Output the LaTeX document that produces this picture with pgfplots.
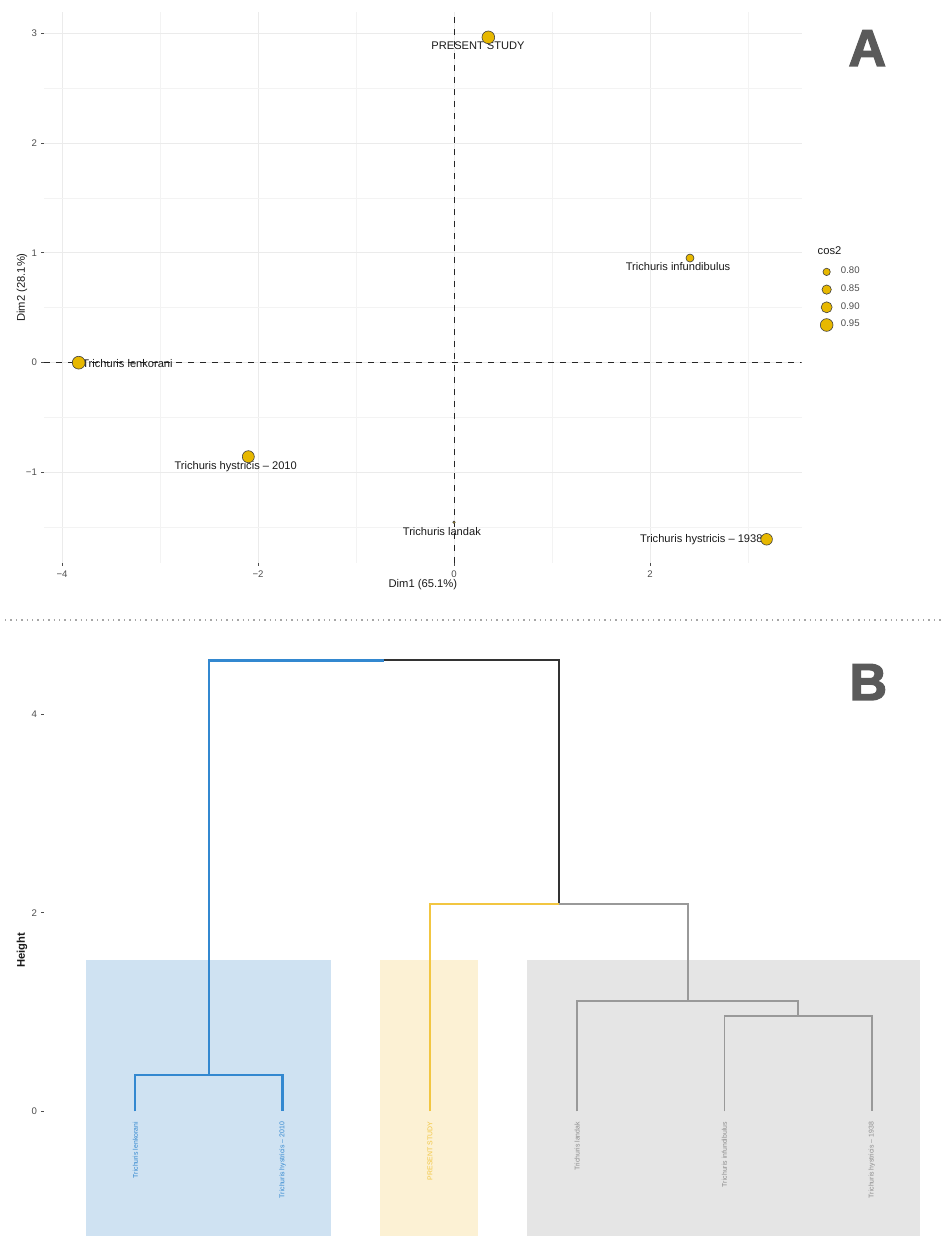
\documentclass[border=0pt]{standalone}
\usepackage{pgfplots}
\pgfplotsset{compat=1.18}
\usepackage{fontspec}
\setmainfont{Liberation Sans}
\newfontfamily\heavy{Liberation Sans Bold}[FakeBold=2.5]
\definecolor{pgold}{HTML}{E7B800}
\definecolor{dblue}{HTML}{3388D0}
\definecolor{dyellow}{HTML}{F2C641}
\definecolor{dgray}{HTML}{999999}
\definecolor{dlab}{HTML}{8C8C8C}
\definecolor{dblack}{HTML}{333333}
\definecolor{rblue}{HTML}{CFE2F2}
\definecolor{ryellow}{HTML}{FCF1D4}
\definecolor{rgray}{HTML}{E5E5E5}
\definecolor{tickgray}{HTML}{4D4D4D}
\definecolor{gridmaj}{HTML}{EBEBEB}
\definecolor{gridmin}{HTML}{F3F3F3}
\definecolor{lettergray}{HTML}{5A5A5A}
\definecolor{txt}{HTML}{1A1A1A}
\pgfplotsset{
  pt/.style={only marks, mark=*, mark options={fill=pgold, draw=black!75, line width=0.3pt}, mark size=#1},
  legimg/.style={legend image code/.code={\path[draw=none,fill=none] (-3.5pt,-3.5pt) rectangle (3.5pt,3.5pt); \draw[##1] plot coordinates {(0pt,0pt)};}},
}
\begin{document}
\begin{tikzpicture}
\path[use as bounding box] (0,0) rectangle (470.5pt,618pt);
% ---------------- Panel A ----------------
\begin{axis}[
  at={(22pt,336.5pt)}, anchor=south west,
  scale only axis, width=378.85pt, height=275.5pt,
  xmin=-4.184, xmax=3.548, ymin=-1.826, ymax=3.197,
  axis line style={draw=none},
  xtick={-4,-2,0,2}, xticklabels={−4,−2,0,2},
  ytick={-1,0,1,2,3}, yticklabels={−1,0,1,2,3},
  minor xtick={-3,-1,1,3}, minor ytick={-1.5,-0.5,0.5,1.5,2.5},
  grid=both,
  major grid style={gridmaj, line width=0.5pt},
  minor grid style={gridmin, line width=0.35pt},
  tick align=outside, major tick length=1.5pt, minor tick length=0pt,
  tick style={tickgray, line width=0.5pt},
  xtick pos=bottom, ytick pos=left,
  tick label style={font=\fontsize{4.8}{5}\selectfont, text=tickgray},
  xticklabel style={yshift=1pt},
  yticklabel style={xshift=1.5pt},
  xlabel={Dim1 (65.1\%)}, ylabel={Dim2 (28.1\%)},
  every axis x label/.style={at={(axis description cs:0.5,-0.0399)}, anchor=center, font=\fontsize{5.6}{6}\selectfont, text=txt},
  every axis y label/.style={at={(axis description cs:-0.029,0.5)}, rotate=90, anchor=center, font=\fontsize{5.6}{6}\selectfont, text=txt},
  legend style={at={(axis description cs:1.0237,0.541)}, anchor=north west, draw=none, fill=none,
    inner sep=0pt, outer sep=0pt, font=\fontsize{4.8}{5}\selectfont, text=tickgray,
    row sep=1.85pt, /tikz/every odd column/.append style={column sep=3.65pt},
    cells={anchor=west}, nodes={inner sep=0pt}},
]
\addlegendimage{legimg, pt=1.83pt}\addlegendentry{0.80}
\addlegendimage{legimg, pt=2.33pt}\addlegendentry{0.85}
\addlegendimage{legimg, pt=2.75pt}\addlegendentry{0.90}
\addlegendimage{legimg, pt=3.17pt}\addlegendentry{0.95}
\addplot[black!85, dashed, line width=0.5pt, forget plot] coordinates {(-4.184,0) (3.548,0)};
\addplot[black!85, dashed, line width=0.5pt, forget plot] coordinates {(0,-1.826) (0,3.197)};
% points: x y (cos2 shown by size)
\addplot[pt=3.17pt, forget plot] coordinates {(0.35,2.966)};   % PRESENT STUDY
\addplot[pt=2.0pt,  forget plot] coordinates {(2.408,0.954)};  % T. infundibulus
\addplot[pt=3.2pt,  forget plot] coordinates {(-3.83,0.0)};    % T. lenkorani
\addplot[pt=3.0pt,  forget plot] coordinates {(-2.099,-0.857)};% T. hystricis 2010
\addplot[pt=0.6pt,  forget plot] coordinates {(0.0,-1.455)};   % T. landak
\addplot[pt=2.9pt,  forget plot] coordinates {(3.19,-1.61)};   % T. hystricis 1938
\begin{scope}[every node/.style={font=\fontsize{5.55}{6}\selectfont, text=txt, inner sep=0pt}]
\node at (axis cs:0.245,2.887) {PRESENT STUDY};
\node at (axis cs:2.286,0.872) {Trichuris infundibulus};
\node at (axis cs:-3.332,-0.005) {Trichuris lenkorani};
\node at (axis cs:-2.228,-0.948) {Trichuris hystricis – 2010};
\node at (axis cs:-0.124,-1.541) {Trichuris landak};
\node at (axis cs:2.524,-1.61) {Trichuris hystricis – 1938};
\end{scope}
\end{axis}
\node[anchor=west, inner sep=0pt, font=\fontsize{5.6}{6}\selectfont, text=txt] at (408.65pt,492.5pt) {cos2};
\node[anchor=base, inner sep=0pt, font=\fontsize{26}{28}\heavy, text=lettergray] at (433.65pt,585pt) {A};
% separator
\draw[gray!70, dotted, line width=0.7pt] (2.5pt,308pt) -- (470.5pt,308pt);
% ---------------- Panel B ----------------
\begin{axis}[
  at={(22pt,0pt)}, anchor=south west,
  scale only axis, width=448.5pt, height=301pt,
  xmin=0.3802, xmax=6.47, ymin=-1.256, ymax=4.807,
  axis line style={draw=none},
  xtick=\empty, ytick={0,2,4}, yticklabels={0,2,4},
  tick align=outside, major tick length=1.5pt,
  tick style={tickgray, line width=0.5pt},
  ytick pos=left,
  tick label style={font=\fontsize{4.8}{5}\selectfont, text=tickgray},
  yticklabel style={xshift=1.5pt},
  ylabel={Height},
  every axis y label/.style={at={(axis description cs:-0.0245,0.475)}, rotate=90, anchor=center, font=\fontsize{5.6}{6}\bfseries, text=txt},
]
\addplot[fill=rblue, draw=none] coordinates {(0.663,-1.4) (2.329,-1.4) (2.329,1.524) (0.663,1.524)} -- cycle;
\addplot[fill=ryellow, draw=none] coordinates {(2.661,-1.4) (3.327,-1.4) (3.327,1.524) (2.661,1.524)} -- cycle;
\addplot[fill=rgray, draw=none] coordinates {(3.661,-1.4) (6.327,-1.4) (6.327,1.524) (3.661,1.524)} -- cycle;
% dendrogram
\addplot[dblue, line width=1.1pt] coordinates {(1,0) (1,0.366) (2,0.366) (2,0)};
\addplot[dblue, line width=1.1pt] coordinates {(1.5,0.366) (1.5,4.54) (2.6875,4.54)};
\addplot[dblack, line width=1pt] coordinates {(2.6875,4.54) (3.875,4.54) (3.875,2.085)};
\addplot[dyellow, line width=0.9pt] coordinates {(3,0) (3,2.085) (3.875,2.085)};
\addplot[dgray, line width=0.9pt] coordinates {(3.875,2.085) (4.75,2.085) (4.75,1.114)};
\addplot[dgray, line width=0.9pt] coordinates {(4,0) (4,1.114) (5.5,1.114) (5.5,0.963)};
\addplot[dgray, line width=0.9pt] coordinates {(5,0) (5,0.963) (6,0.963) (6,0)};
\begin{scope}[every node/.style={font=\fontsize{3.45}{4}\selectfont, inner sep=0pt, rotate=90, anchor=east}]
\node[text=dblue] at (axis cs:1,-0.105) {Trichuris lenkorani};
\node[text=dblue] at (axis cs:2,-0.105) {Trichuris hystricis – 2010};
\node[text=dyellow] at (axis cs:3,-0.105) {PRESENT STUDY};
\node[text=dlab] at (axis cs:4,-0.105) {Trichuris landak};
\node[text=dlab] at (axis cs:5,-0.105) {Trichuris infundibulus};
\node[text=dlab] at (axis cs:6,-0.105) {Trichuris hystricis – 1938};
\end{scope}
\end{axis}
\node[anchor=base, inner sep=0pt, font=\fontsize{26}{28}\heavy, text=lettergray] at (434.15pt,268pt) {B};
\end{tikzpicture}
\end{document}
